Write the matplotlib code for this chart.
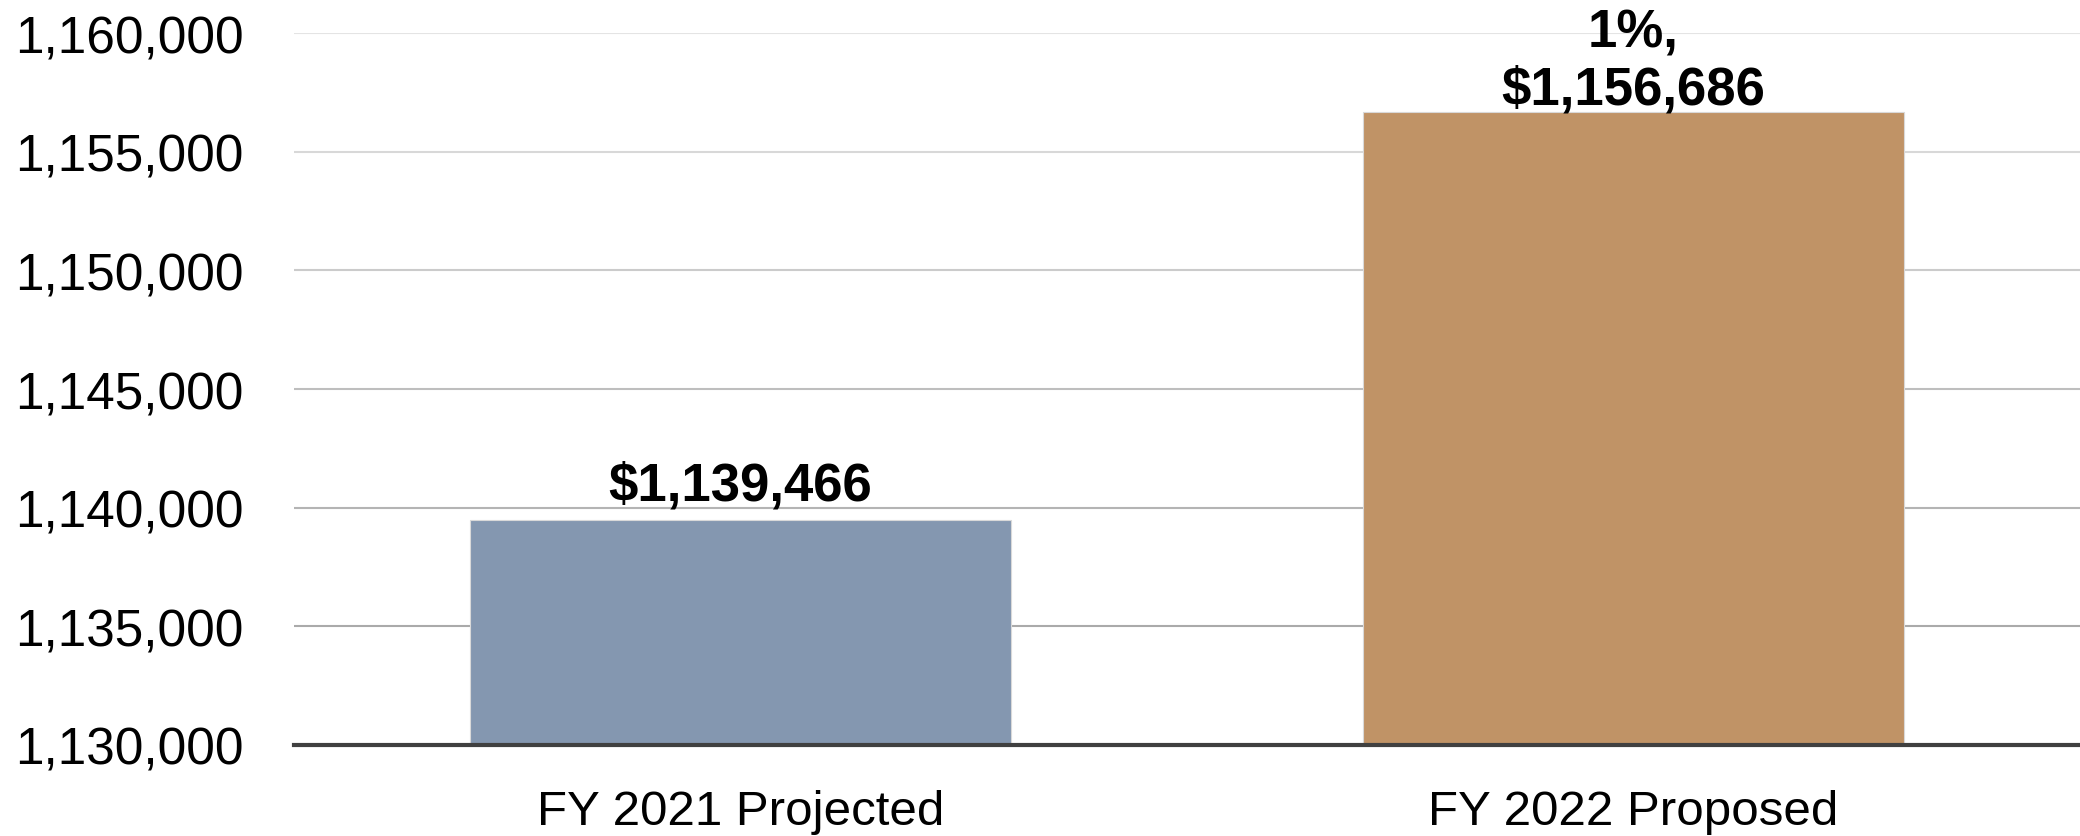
import matplotlib.pyplot as plt
from matplotlib.ticker import FuncFormatter

categories = ['FY 2021 Projected', 'FY 2022 Proposed']
amounts = [1139466, 1156686]
pct_change = [None, '1%']
bar_colors = ['#8497B0', '#C09366']
y_ticks = [1130000, 1135000, 1140000, 1145000, 1150000, 1155000, 1160000]

plt.rcParams['font.family'] = ['Liberation Sans', 'DejaVu Sans']

fig = plt.figure(figsize=(20.8, 8.37), dpi=100)
ax = fig.add_axes([0.1413, 0.1093, 0.8587, 0.8495])

x = range(len(categories))
ax.bar(x, amounts, width=0.605, color=bar_colors, edgecolor='#d9d9d9', linewidth=0.8, zorder=3)

ax.set_xlim(-0.5, 1.5)
ax.set_ylim(y_ticks[0], y_ticks[-1])
ax.set_yticks(y_ticks)
ax.yaxis.set_major_formatter(FuncFormatter(lambda v, p: f'{v:,.0f}'))
ax.set_xticks(list(x))
ax.set_xticklabels(categories)

ax.tick_params(axis='y', length=0, pad=36, labelsize=37)
ax.tick_params(axis='x', length=0, pad=32, labelsize=35.5)

for s in ['left', 'right', 'top']:
    ax.spines[s].set_visible(False)
ax.spines['bottom'].set_color('#404040')
ax.spines['bottom'].set_linewidth(3)
ax.spines['bottom'].set_zorder(4)

# gridlines fade lighter toward the top
ax.yaxis.grid(True, linewidth=1.5, zorder=0)
grid_shades = ['#a6a6a6', '#aaaaaa', '#b4b4b4', '#bebebe', '#cbcbcb', '#d8d8d8', '#e4e4e4']
for line, c in zip(ax.yaxis.get_gridlines(), grid_shades):
    line.set_color(c)

# the two-line label sits tighter on its bar so it stays inside the figure
label_offsets = [7, -2]
for i, (v, p) in enumerate(zip(amounts, pct_change)):
    label = f'${v:,.0f}'
    if p:
        label = f'{p},\n{label}'
    ax.annotate(label, (i, v), xytext=(0, label_offsets[i]), textcoords='offset points',
                ha='center', va='bottom', fontsize=38, fontweight='bold',
                linespacing=1.2, zorder=5)

fig.savefig('out.png', dpi=100)
